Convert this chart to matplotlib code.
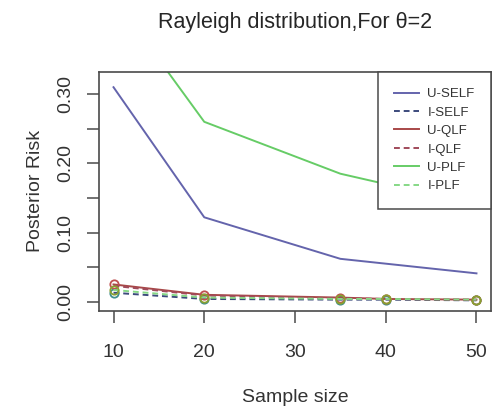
import matplotlib
matplotlib.use("Agg")
import matplotlib.pyplot as plt
from matplotlib.lines import Line2D
from matplotlib.ticker import FixedLocator

plt.rcParams["font.family"] = ["Liberation Sans", "DejaVu Sans"]

# Posterior risk by sample size for the Rayleigh model (theta = 2)
sample_size = [10, 20, 35, 40, 50]
u_self = [0.310, 0.122, 0.062, 0.055, 0.041]
i_self = [0.013, 0.004, 0.003, 0.003, 0.002]
u_qlf = [0.025, 0.010, 0.006, 0.004, 0.003]
i_qlf = [0.023, 0.009, 0.005, 0.004, 0.003]
u_plf = [0.440, 0.260, 0.185, 0.170, 0.150]
i_plf = [0.017, 0.006, 0.004, 0.004, 0.003]

labels = ["U-SELF", "I-SELF", "U-QLF", "I-QLF", "U-PLF", "I-PLF"]
x_ticks = [10, 20, 30, 40, 50]
y_ticks = [0.00, 0.05, 0.10, 0.15, 0.20, 0.25, 0.30]
y_tick_labels = ["0.00", "", "0.10", "", "0.20", "", "0.30"]

W, H = 499, 417
fig = plt.figure(figsize=(W / 100, H / 100), dpi=100)
ax = fig.add_axes([99 / W, 1 - 311 / H, (491 - 99) / W, (311 - 71.5) / H])

lw = 1.4
dash = (0, (3, 2))
styles = [
    dict(color="#6464ac", ls="-"),
    dict(color="#3c4a7c", ls=dash),
    dict(color="#a84848", ls="-"),
    dict(color="#a04a5a", ls=dash),
    dict(color="#66cc66", ls="-"),
    dict(color="#86d886", ls=dash),
]
series = [u_self, i_self, u_qlf, i_qlf, u_plf, i_plf]
marker_edges = [None, "#3f8f8f", "#c05050", None, None, "#8aa030"]

for vals, st, mec in zip(series, styles, marker_edges):
    if mec is None:
        ax.plot(sample_size, vals, lw=lw, **st)
    else:
        ax.plot(sample_size, vals, lw=lw, marker="o", ms=6, mfc="none",
                mec=mec, mew=1.3, **st)

ax.set_xlim(8.4, 51.6)
ax.set_ylim(-0.0134, 0.3327)

ax.xaxis.set_major_locator(FixedLocator(x_ticks))
ax.set_xticklabels([str(v) for v in x_ticks])
ax.yaxis.set_major_locator(FixedLocator(y_ticks))
ax.set_yticklabels(y_tick_labels, rotation=90, va="center")

frame_col = "#4a4a4a"
for s in ax.spines.values():
    s.set_color(frame_col)
    s.set_linewidth(1.2)
ax.tick_params(axis="both", direction="out", length=8.5, width=1.1,
               color=frame_col, labelsize=14, labelcolor="#333333")
ax.tick_params(axis="x", pad=15)
ax.tick_params(axis="y", pad=9)

handles = [Line2D([], [], lw=lw, **st) for st in styles]
leg = ax.legend(handles, labels, loc="upper right", bbox_to_anchor=(1.0, 1.0),
                borderaxespad=0, fontsize=9.5, frameon=True, fancybox=False,
                framealpha=1, edgecolor="#4a4a4a", handlelength=1.9,
                handletextpad=0.6, labelspacing=0.47, borderpad=1.25)
leg.get_frame().set_linewidth(1.1)
for t in leg.get_texts():
    t.set_color("#333333")

fig.text(295 / W, 1 - 28 / H, "Rayleigh distribution,For \u03b8=2",
         ha="center", va="baseline", fontsize=15.5, color="#262626")
fig.text(295 / W, 1 - 398 / H, "Sample size", ha="center", va="center",
         fontsize=14, color="#333333")
fig.text(35 / W, 1 - 191 / H, "Posterior Risk", ha="center", va="center",
         rotation=90, fontsize=14, color="#333333")

fig.savefig("out.png", dpi=100)
